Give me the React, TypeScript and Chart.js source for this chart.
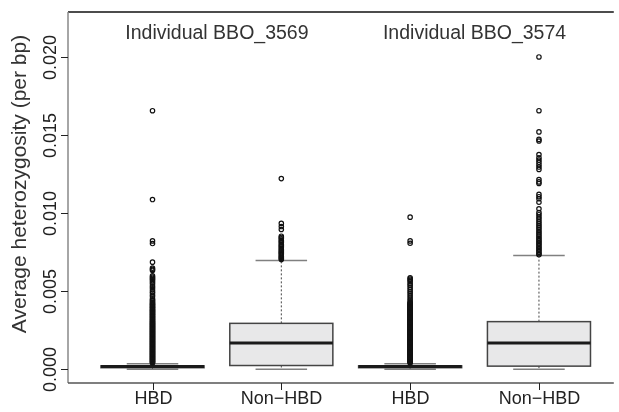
import React, { useEffect, useRef } from 'react';
import { Chart, registerables } from 'chart.js';

Chart.register(...registerables);

const categories = ['HBD', 'Non\u2212HBD', 'HBD', 'Non\u2212HBD'];
const panelTitles = ['Individual BBO_3569', 'Individual BBO_3574'];
const panelCenters = [1.5, 3.5];
const yTicks = [0, 0.005, 0.01, 0.015, 0.02];
const yTickLabels = ['0.000', '0.005', '0.010', '0.015', '0.020'];
const yTitle = 'Average heterozygosity (per bp)';

const whiskerLow = [0, 0, 0, 0];
const q1 = [0.0001, 0.00024, 0.0001, 0.0002];
const median = [0.00017, 0.00168, 0.00017, 0.00168];
const q3 = [0.00022, 0.00294, 0.00022, 0.00305];
const whiskerHigh = [0.00036, 0.00697, 0.00036, 0.00729];

const outliersHbd1 = [
  0.01656, 0.01087, 0.00822, 0.00805, 0.00686, 0.00648, 0.0064, 0.00633, 0.00598, 0.0059,
  0.00582, 0.00575, 0.00566, 0.00556, 0.00545, 0.00531, 0.00522, 0.0051, 0.00497, 0.00488,
  0.00475, 0.00466, 0.00452, 0.00444, 0.00431, 0.0042, 0.00411, 0.004, 0.00392, 0.00381,
  0.00372, 0.00363, 0.00354, 0.00345, 0.00336, 0.00327, 0.00318, 0.00309, 0.003, 0.00292,
  0.00284, 0.00276, 0.00268, 0.0026, 0.00252, 0.00244, 0.00236, 0.00228, 0.0022, 0.00212,
  0.00204, 0.00196, 0.00188, 0.0018, 0.00172, 0.00164, 0.00156, 0.00148, 0.0014, 0.00132,
  0.00124, 0.00116, 0.00108, 0.001, 0.00092, 0.00084, 0.00076, 0.00068, 0.0006, 0.00052,
  0.00045, 0.0004, 0.00438, 0.00426, 0.00415, 0.00405, 0.00396, 0.00386, 0.00377, 0.00368,
  0.00358, 0.0035, 0.0034, 0.00331, 0.00322, 0.00313, 0.00304, 0.00296, 0.00288, 0.0028,
  0.00272, 0.00264, 0.00256, 0.00248, 0.0024, 0.00232, 0.00224, 0.00216, 0.00208, 0.002,
  0.00192, 0.00184, 0.00176, 0.00168, 0.0016, 0.00152, 0.00144, 0.00136, 0.00128, 0.0012,
  0.00112, 0.00104, 0.00096, 0.00088, 0.0008, 0.00072, 0.00064, 0.00056, 0.00048,
];
const outliersNon1 = [
  0.01221, 0.00934, 0.00914, 0.00895, 0.00852, 0.00844, 0.00836, 0.00827, 0.00818, 0.0081,
  0.00801, 0.00793, 0.00785, 0.00777, 0.00769, 0.00761, 0.00753, 0.00746, 0.00739, 0.00731,
  0.00724, 0.00717, 0.0071, 0.00703,
];
const outliersHbd2 = [
  0.00974, 0.00822, 0.00807, 0.00586, 0.00578, 0.0057, 0.0056, 0.00548, 0.00538, 0.00525,
  0.00512, 0.005, 0.00488, 0.00476, 0.00462, 0.0045, 0.00438, 0.00428, 0.0042, 0.00412,
  0.00404, 0.00396, 0.00388, 0.0038, 0.00372, 0.00364, 0.00356, 0.00348, 0.0034, 0.00332,
  0.00324, 0.00316, 0.00308, 0.003, 0.00292, 0.00284, 0.00276, 0.00268, 0.0026, 0.00252,
  0.00244, 0.00236, 0.00228, 0.0022, 0.00212, 0.00204, 0.00196, 0.00188, 0.0018, 0.00172,
  0.00164, 0.00156, 0.00148, 0.0014, 0.00132, 0.00124, 0.00116, 0.00108, 0.001, 0.00092,
  0.00084, 0.00076, 0.00068, 0.0006, 0.00052, 0.00045, 0.0004, 0.00424, 0.00416, 0.00408,
  0.004, 0.00392, 0.00384, 0.00376, 0.00368, 0.0036, 0.00352, 0.00344, 0.00336, 0.00328,
  0.0032, 0.00312, 0.00304, 0.00296, 0.00288, 0.0028, 0.00272, 0.00264, 0.00256, 0.00248,
  0.0024, 0.00232, 0.00224, 0.00216, 0.00208, 0.002, 0.00192, 0.00184, 0.00176, 0.00168,
  0.0016, 0.00152, 0.00144, 0.00136, 0.00128, 0.0012, 0.00112, 0.00104, 0.00096, 0.00088,
  0.0008, 0.00072, 0.00064, 0.00056, 0.00048,
];
const outliersNon2 = [
  0.02, 0.01656, 0.0152, 0.01472, 0.01462, 0.01375, 0.01355, 0.0134, 0.01325, 0.0131,
  0.01295, 0.0128, 0.01215, 0.012, 0.0119, 0.0112, 0.01105, 0.01092, 0.0107, 0.01028,
  0.01003, 0.0099, 0.00975, 0.00962, 0.00948, 0.00935, 0.00922, 0.0091, 0.00898, 0.00885,
  0.00874, 0.00863, 0.00852, 0.0084, 0.0083, 0.0082, 0.0081, 0.008, 0.0079, 0.0078,
  0.0077, 0.0076, 0.0075, 0.0074, 0.00733,
];
const outlierGroups = [outliersHbd1, outliersNon1, outliersHbd2, outliersNon2];

const FONT = '"Liberation Sans", Arial, Helvetica, sans-serif';

const boxPlugin = {
  id: 'rBoxplot',
  beforeDatasetsDraw(chart: any) {
    const { ctx, scales } = chart;
    const x = scales.x;
    const y = scales.y;
    ctx.save();
    for (let i = 0; i < categories.length; i++) {
      const pos = i + 1;
      const cx = x.getPixelForValue(pos);
      const left = x.getPixelForValue(pos - 0.4);
      const right = x.getPixelForValue(pos + 0.4);
      const capL = x.getPixelForValue(pos - 0.2);
      const capR = x.getPixelForValue(pos + 0.2);
      ctx.setLineDash([2, 2]);
      ctx.strokeStyle = '#444';
      ctx.lineWidth = 1;
      ctx.beginPath();
      ctx.moveTo(cx, y.getPixelForValue(q3[i]));
      ctx.lineTo(cx, y.getPixelForValue(whiskerHigh[i]));
      ctx.moveTo(cx, y.getPixelForValue(q1[i]));
      ctx.lineTo(cx, y.getPixelForValue(whiskerLow[i]));
      ctx.stroke();
      ctx.setLineDash([]);
      ctx.strokeStyle = '#808080';
      ctx.lineWidth = 1.5;
      ctx.beginPath();
      ctx.moveTo(capL, y.getPixelForValue(whiskerHigh[i]));
      ctx.lineTo(capR, y.getPixelForValue(whiskerHigh[i]));
      ctx.moveTo(capL, y.getPixelForValue(whiskerLow[i]));
      ctx.lineTo(capR, y.getPixelForValue(whiskerLow[i]));
      ctx.stroke();
      const top = y.getPixelForValue(q3[i]);
      const bot = y.getPixelForValue(q1[i]);
      ctx.fillStyle = '#e8e8e9';
      ctx.fillRect(left, top, right - left, bot - top);
      ctx.strokeStyle = '#444';
      ctx.lineWidth = 1.5;
      ctx.strokeRect(left, top, right - left, bot - top);
      ctx.strokeStyle = '#1a1a1a';
      ctx.lineWidth = 3;
      ctx.beginPath();
      ctx.moveTo(left, y.getPixelForValue(median[i]));
      ctx.lineTo(right, y.getPixelForValue(median[i]));
      ctx.stroke();
    }
    ctx.restore();
  },
  afterDraw(chart: any) {
    const { ctx, chartArea, scales } = chart;
    const x = scales.x;
    const y = scales.y;
    ctx.save();
    ctx.lineWidth = 1.5;
    ctx.strokeStyle = '#111';
    ctx.beginPath();
    ctx.moveTo(chartArea.left, chartArea.top);
    ctx.lineTo(chartArea.right, chartArea.top);
    ctx.stroke();
    ctx.strokeStyle = '#888';
    ctx.beginPath();
    ctx.moveTo(chartArea.left, chartArea.top);
    ctx.lineTo(chartArea.left, chartArea.bottom);
    ctx.stroke();
    ctx.strokeStyle = '#555';
    ctx.beginPath();
    ctx.moveTo(chartArea.left, chartArea.bottom);
    ctx.lineTo(chartArea.right, chartArea.bottom);
    ctx.stroke();
    ctx.strokeStyle = '#222';
    ctx.lineWidth = 1;
    ctx.fillStyle = '#222';
    ctx.font = `18px ${FONT}`;
    for (let i = 0; i < yTicks.length; i++) {
      const py = Math.round(y.getPixelForValue(yTicks[i])) + 0.5;
      ctx.beginPath();
      ctx.moveTo(chartArea.left - 7, py);
      ctx.lineTo(chartArea.left, py);
      ctx.stroke();
      ctx.save();
      ctx.translate(chartArea.left - 17, py);
      ctx.rotate(-Math.PI / 2);
      ctx.textAlign = 'center';
      ctx.textBaseline = 'middle';
      ctx.fillText(yTickLabels[i], 0, 0);
      ctx.restore();
    }
    for (let i = 0; i < categories.length; i++) {
      const px = Math.round(x.getPixelForValue(i + 1)) + 0.5;
      ctx.beginPath();
      ctx.moveTo(px, chartArea.bottom);
      ctx.lineTo(px, chartArea.bottom + 7);
      ctx.stroke();
      ctx.textAlign = 'center';
      ctx.textBaseline = 'middle';
      ctx.fillText(categories[i], px, chartArea.bottom + 16);
    }
    ctx.save();
    ctx.fillStyle = '#333';
    ctx.font = `21px ${FONT}`;
    ctx.translate(20, 184);
    ctx.rotate(-Math.PI / 2);
    ctx.textAlign = 'center';
    ctx.textBaseline = 'middle';
    ctx.fillText(yTitle, 0, 0);
    ctx.restore();
    ctx.fillStyle = '#333';
    ctx.font = `19.5px ${FONT}`;
    ctx.textAlign = 'center';
    ctx.textBaseline = 'middle';
    for (let i = 0; i < panelTitles.length; i++) {
      ctx.fillText(panelTitles[i], x.getPixelForValue(panelCenters[i]), 34);
    }
    ctx.restore();
  },
};

export default function App() {
  const ref = useRef<HTMLCanvasElement | null>(null);
  useEffect(() => {
    document.body.style.margin = '0';
    const canvas = ref.current;
    if (!canvas) return;
    const datasets = outlierGroups.map((vals, i) => ({
      label: categories[i],
      data: vals.map((v) => ({ x: i + 1, y: v })),
      pointStyle: 'circle',
      pointRadius: 2.2,
      pointBorderWidth: 1.2,
      pointBorderColor: '#111',
      pointBackgroundColor: 'rgba(0,0,0,0)',
      showLine: false,
    }));
    const chart = new Chart(canvas, {
      type: 'scatter',
      data: { datasets },
      options: {
        animation: false,
        responsive: false,
        devicePixelRatio: 1,
        layout: { padding: { left: 68, top: 12, right: 0, bottom: 29 } },
        plugins: { legend: { display: false }, tooltip: { enabled: false } },
        scales: {
          x: { type: 'linear', min: 0.344, max: 4.581, display: false },
          y: { type: 'linear', min: -0.00088, max: 0.02288, display: false },
        },
      },
      plugins: [boxPlugin],
    });
    return () => chart.destroy();
  }, []);
  return <canvas ref={ref} width={619} height={412} style={{ display: 'block' }} />;
}
